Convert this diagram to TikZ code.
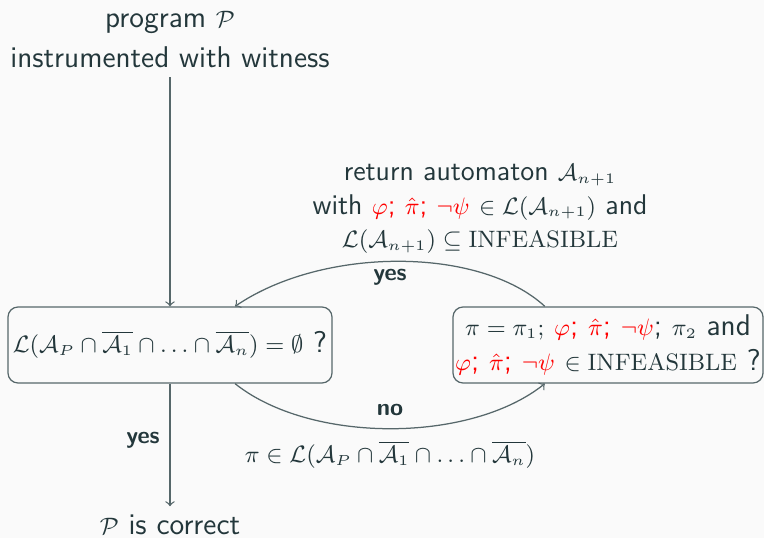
\RequirePackage{fix-cm}
\documentclass[tikz,border=0pt]{standalone}
\usetikzlibrary{calc}
\DeclareMathSizes{12}{9.5}{5.8}{4.5}
\DeclareMathSizes{11.4}{9.5}{5.8}{4.5}
\definecolor{mteal}{HTML}{23373B}
\definecolor{bg}{HTML}{FAFAFA}
\definecolor{linec}{HTML}{56676A}
\begin{document}
\begin{tikzpicture}[x=0.4pt,y=-0.4pt,
  every node/.style={text=mteal,font=\sffamily\fontsize{12}{16}\selectfont},
  box/.style={draw=linec,line width=0.5pt,rounded corners=4pt,inner sep=0pt,
    minimum height=30.4pt,align=center},
  conn/.style={draw=linec,line width=0.5pt,-to},
  lbl/.style={font=\sffamily\bfseries\fontsize{9.5}{12}\selectfont}]
\fill[bg] (0,0) rectangle (764,538);
\useasboundingbox (0,0) rectangle (764,538);
\node[align=center] (top) at (170,40) {program $\mathcal{P}$\\instrumented with witness};
\node[box,minimum width=129.6pt] (L) at (170,345)
  {$\mathcal{L}(\mathcal{A}_P\cap\overline{\mathcal{A}_1}\cap\ldots\cap\overline{\mathcal{A}_n})=\emptyset$ ?};
\node[box,minimum width=124pt,font=\sffamily\fontsize{12}{14}\selectfont] (R) at (608,345)
  {$\pi=\pi_1;$ \textcolor{red}{$\varphi$; $\hat\pi$; $\neg\psi$}; $\pi_2$ and\\
   \textcolor{red}{$\varphi$; $\hat\pi$; $\neg\psi$} $\in\mathrm{INFEASIBLE}$ ?};
\node[align=center,font=\sffamily\fontsize{11.4}{13.5}\selectfont] (ret) at (480,209)
  {return automaton $\mathcal{A}_{n+1}$\\
   with \textcolor{red}{$\varphi$; $\hat\pi$; $\neg\psi$} $\in\mathcal{L}(\mathcal{A}_{n+1})$ and\\
   $\mathcal{L}(\mathcal{A}_{n+1})\subseteq\mathrm{INFEASIBLE}$};
\node (end) at (170,525) {$\mathcal{P}$ is correct};
\node[lbl] (yes1) at (390,277) {yes};
\node[lbl] (no) at (390,410) {no};
\node[lbl] (yes2) at (143,440) {yes};
\node (pil) at (390,455) {$\pi\in\mathcal{L}(\mathcal{A}_P\cap\overline{\mathcal{A}_1}\cap\ldots\cap\overline{\mathcal{A}_n})$};
\coordinate (Lnw) at ($(L.north west)!0.7!(L.north east)$);
\coordinate (Lsw) at ($(L.south west)!0.7!(L.south east)$);
\coordinate (Rn) at ($(R.north west)!0.297!(R.north east)$);
\coordinate (Rs) at ($(R.south west)!0.297!(R.south east)$);
\draw[conn] (top.south) -- (L.north);
\draw[conn] (L.south) -- (end.north);
\draw[conn] (Rn) .. controls ($(Rn)+(-65,-60)$) and ($(Lnw)+(88,-60)$) .. (Lnw);
\draw[conn] (Lsw) .. controls ($(Lsw)+(75,60)$) and ($(Rs)+(-75,60)$) .. (Rs);
\end{tikzpicture}
\end{document}
